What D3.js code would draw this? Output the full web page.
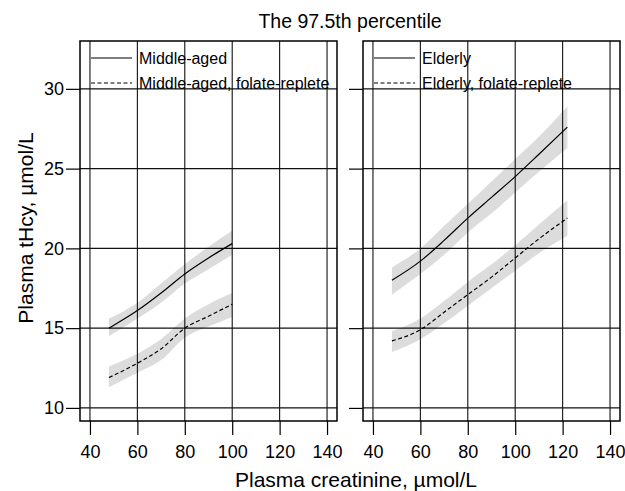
<!DOCTYPE html>
<html>
<head>
<meta charset="utf-8">
<script src="https://cdn.jsdelivr.net/npm/d3@7"></script>
<style>
  body { margin: 0; background: #fff; }
  text { font-family: "Liberation Sans", Arial, sans-serif; fill: #000; }
</style>
</head>
<body>
<div id="chart"></div>
<script>
// creatinine points
const creatMid = [48, 60, 70, 80, 90, 100];
const creatOld = [48, 60, 70, 80, 90, 100, 110, 122];

// middle-aged
const midAged   = [15.0, 16.1, 17.2, 18.4, 19.4, 20.3];
const midAgedLo = [14.5, 15.6, 16.6, 17.8, 18.7, 19.6];
const midAgedHi = [15.6, 16.6, 17.8, 19.0, 20.1, 21.1];
const midFol    = [11.9, 12.8, 13.7, 15.0, 15.75, 16.5];
const midFolLo  = [11.3, 12.2, 13.0, 14.4, 15.1, 15.7];
const midFolHi  = [12.6, 13.4, 14.3, 15.6, 16.5, 17.2];

// elderly
const elderly     = [18.0, 19.2, 20.5, 21.9, 23.2, 24.5, 25.9, 27.6];
const elderlyLo   = [17.1, 18.4, 19.6, 21.0, 22.2, 23.5, 24.8, 26.3];
const elderlyHi   = [18.8, 20.0, 21.4, 22.8, 24.2, 25.6, 27.0, 28.9];
const elderlyFol   = [14.2, 14.9, 16.0, 17.1, 18.2, 19.4, 20.6, 21.9];
const elderlyFolLo = [13.5, 14.3, 15.3, 16.4, 17.5, 18.6, 19.7, 20.8];
const elderlyFolHi = [14.8, 15.6, 16.7, 17.9, 19.0, 20.2, 21.5, 23.0];

const xTicks = [40, 60, 80, 100, 120, 140];
const yTicks = [10, 15, 20, 25, 30];

const W = 625, H = 491;
const plotTop = 41, plotBottom = 421;
const font = '"Liberation Sans", Arial, sans-serif';
const panels = [
  { left: 80, right: 337, x: creatMid, labels: ["Middle-aged", "Middle-aged, folate-replete"],
    series: [[midAged, midAgedLo, midAgedHi], [midFol, midFolLo, midFolHi]], yLabels: true },
  { left: 363, right: 620, x: creatOld, labels: ["Elderly", "Elderly, folate-replete"],
    series: [[elderly, elderlyLo, elderlyHi], [elderlyFol, elderlyFolLo, elderlyFolHi]], yLabels: false }
];

const svg = d3.select('#chart').append('svg')
  .attr('width', W).attr('height', H);

const y = d3.scaleLinear().domain([9.18, 33.0]).range([plotBottom, plotTop]);

panels.forEach(p => {
  const x = d3.scaleLinear().domain([35.8, 144.2]).range([p.left, p.right]);
  const g = svg.append('g');

  // confidence bands
  p.series.forEach(([mid, lo, hi]) => {
    const pts = p.x.map((c, i) => ({ c, lo: lo[i], hi: hi[i] }));
    g.append('path')
      .datum(pts)
      .attr('fill', '#dcdcdc')
      .attr('d', d3.area().curve(d3.curveMonotoneX)
        .x(d => x(d.c)).y0(d => y(d.lo)).y1(d => y(d.hi)));
  });

  // grid
  g.selectAll('.vg').data(xTicks).join('line')
    .attr('x1', d => x(d)).attr('x2', d => x(d))
    .attr('y1', plotTop).attr('y2', plotBottom)
    .attr('stroke', '#111').attr('stroke-width', 1.1);
  g.selectAll('.hg').data(yTicks).join('line')
    .attr('x1', p.left).attr('x2', p.right)
    .attr('y1', d => y(d)).attr('y2', d => y(d))
    .attr('stroke', '#111').attr('stroke-width', 1.1);

  // lines
  p.series.forEach(([mid], k) => {
    g.append('path')
      .datum(p.x.map((c, i) => [c, mid[i]]))
      .attr('fill', 'none')
      .attr('stroke', '#000')
      .attr('stroke-width', 1.2)
      .attr('stroke-dasharray', k ? '4,2.5' : null)
      .attr('d', d3.line().curve(d3.curveMonotoneX).x(d => x(d[0])).y(d => y(d[1])));
  });

  // frame
  g.append('rect')
    .attr('x', p.left).attr('y', plotTop)
    .attr('width', p.right - p.left).attr('height', plotBottom - plotTop)
    .attr('fill', 'none').attr('stroke', '#000').attr('stroke-width', 1.5);

  // x axis
  const xa = g.append('g')
    .attr('transform', `translate(0,${plotBottom})`)
    .call(d3.axisBottom(x).tickValues(xTicks).tickSize(14).tickPadding(10));
  xa.select('.domain').remove();
  xa.selectAll('line').attr('stroke', '#000').attr('stroke-width', 1.2);
  xa.selectAll('text').attr('font-size', 18).attr('font-family', font);

  // y axis
  const ya = g.append('g')
    .attr('transform', `translate(${p.left},0)`)
    .call(d3.axisLeft(y).tickValues(yTicks).tickSize(14).tickPadding(2)
      .tickFormat(p.yLabels ? d3.format('d') : () => ''));
  ya.select('.domain').remove();
  ya.selectAll('line').attr('stroke', '#000').attr('stroke-width', 1.2);
  ya.selectAll('text').attr('font-size', 18).attr('font-family', font);

  // legend
  p.labels.forEach((lab, k) => {
    const ly = 58 + k * 25;
    g.append('line')
      .attr('x1', p.left + 11).attr('x2', p.left + 52)
      .attr('y1', ly).attr('y2', ly)
      .attr('stroke', '#000').attr('stroke-width', 1.2)
      .attr('stroke-dasharray', k ? '4,2.5' : null);
    g.append('text')
      .attr('x', p.left + 59).attr('y', ly + 5.5)
      .attr('font-size', 16)
      .text(lab);
  });
});

// titles
svg.append('text')
  .attr('x', 350).attr('y', 28)
  .attr('text-anchor', 'middle').attr('font-size', 19.5)
  .text('The 97.5th percentile');

svg.append('text')
  .attr('x', 356).attr('y', 487)
  .attr('text-anchor', 'middle').attr('font-size', 21)
  .text('Plasma creatinine, µmol/L');

svg.append('text')
  .attr('transform', 'translate(33,228) rotate(-90)')
  .attr('text-anchor', 'middle').attr('font-size', 21)
  .text('Plasma tHcy, µmol/L');
</script>
</body>
</html>
